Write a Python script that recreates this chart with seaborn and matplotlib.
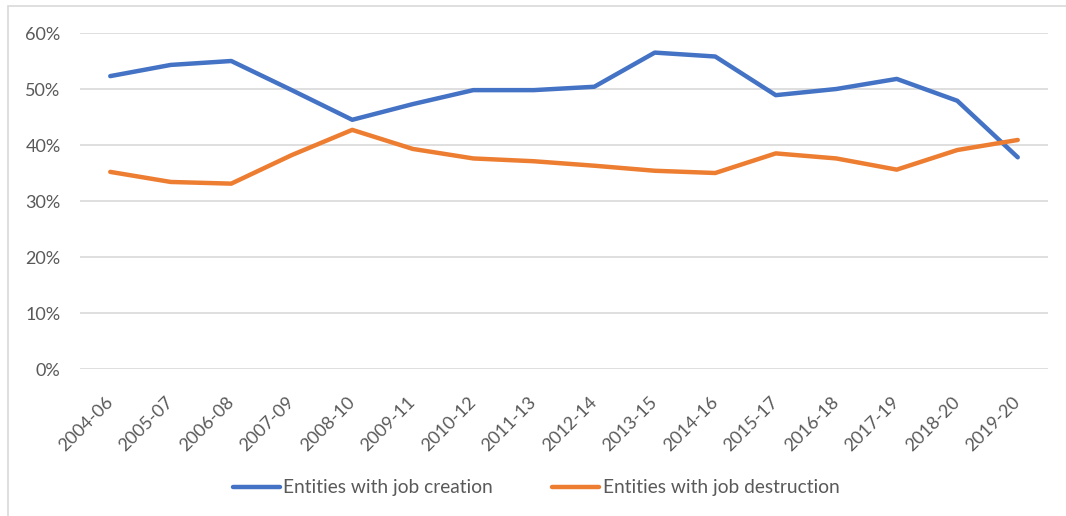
import matplotlib
matplotlib.use("Agg")
import matplotlib.pyplot as plt
import seaborn as sns
import pandas as pd
from matplotlib.patches import Rectangle
from matplotlib.ticker import FuncFormatter
from matplotlib.lines import Line2D

periods = ["2004-06", "2005-07", "2006-08", "2007-09", "2008-10", "2009-11",
           "2010-12", "2011-13", "2012-14", "2013-15", "2014-16", "2015-17",
           "2016-18", "2017-19", "2018-20", "2019-20"]
job_creation = [52.3, 54.3, 55.0, 49.8, 44.5, 47.3, 49.8, 49.8, 50.4, 56.5,
                55.8, 48.9, 50.0, 51.8, 47.9, 37.8]
job_destruction = [35.2, 33.4, 33.1, 38.2, 42.7, 39.3, 37.6, 37.1, 36.3, 35.4,
                   35.0, 38.5, 37.6, 35.6, 39.1, 40.9]
series_names = ["Entities with job creation", "Entities with job destruction"]
colors = ["#4472C4", "#ED7D31"]

sns.set_theme(style="white")
plt.rcParams["font.family"] = ["Lato", "DejaVu Sans"]

W, H = 1066, 516
fig = plt.figure(figsize=(W / 100, H / 100), dpi=100)
ax = fig.add_axes([80 / W, 1 - 369 / H, (1048 - 80) / W, (369 - 33) / H])

df = pd.DataFrame({
    "period": periods * 2,
    "value": job_creation + job_destruction,
    "series": [series_names[0]] * len(periods) + [series_names[1]] * len(periods),
})

sns.lineplot(data=df, x="period", y="value", hue="series", palette=colors,
             linewidth=3.2, sort=False, ax=ax, legend=False)

ax.set_xlim(-0.5, len(periods) - 0.5)
ax.set_ylim(0, 60)
ax.set_yticks(range(0, 61, 10))
ax.yaxis.set_major_formatter(FuncFormatter(lambda v, p: f"{int(v)}%"))
ax.grid(axis="y", color="#d9d9d9", linewidth=1.2)
ax.grid(axis="x", visible=False)
for s in ax.spines.values():
    s.set_visible(False)
ax.set_xlabel("")
ax.set_ylabel("")
ax.tick_params(axis="y", length=0, pad=14, labelsize=13, labelcolor="#595959")
ax.tick_params(axis="x", length=0, pad=22, labelsize=13, labelcolor="#595959")
ax.set_xticks(range(len(periods)))
ax.set_xticklabels(periods, rotation=45, ha="right", va="center", rotation_mode="anchor")

handles = [Line2D([], [], color=c, linewidth=3.2, solid_capstyle="round") for c in colors]
fig.legend(handles, series_names, loc="center", bbox_to_anchor=(0.503, 1 - 488 / H),
           ncol=2, frameon=False, fontsize=13.75, handlelength=2.45, handletextpad=0.2,
           columnspacing=3.1, labelcolor="#595959")

fig.patches.append(Rectangle((8 / W, 0 - 0.01), 1.0, 1 - 6 / H + 0.01, transform=fig.transFigure,
                             fill=False, edgecolor="#d9d9d9", linewidth=1.2))

fig.savefig("out.png", dpi=100)
